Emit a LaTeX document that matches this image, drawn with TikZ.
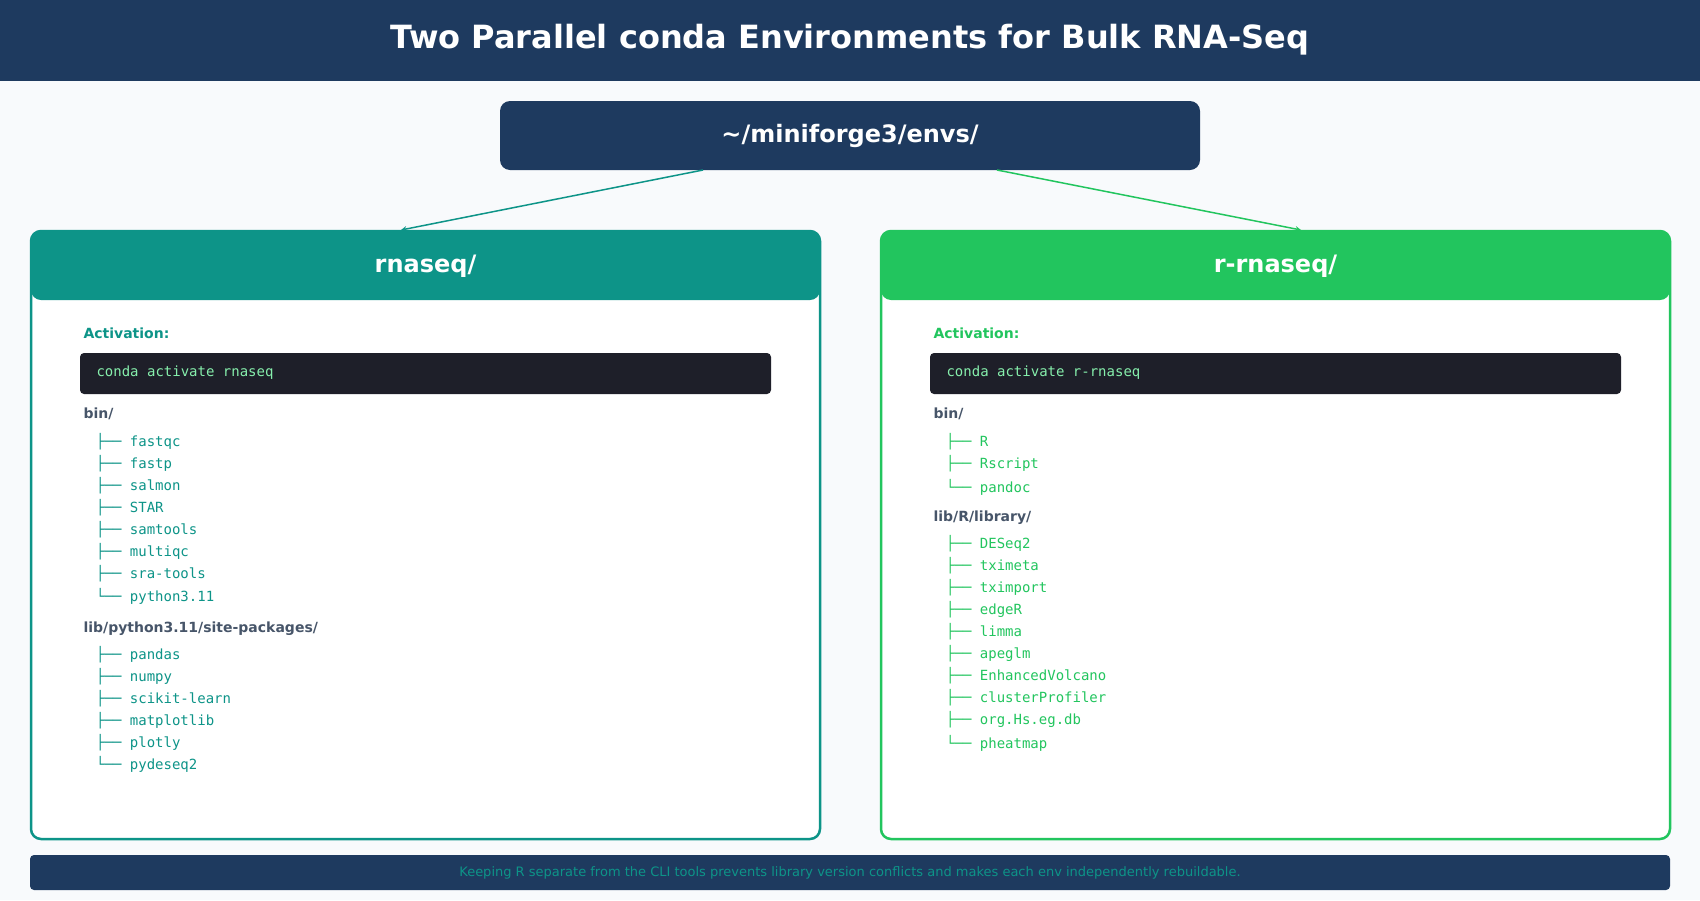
\documentclass[tikz,border=0pt]{standalone}
\usepackage{fontspec}
\setmainfont{DejaVu Sans}
\setmonofont{DejaVu Sans Mono}
\usetikzlibrary{positioning}
\definecolor{navy}{HTML}{1E3A5F}
\definecolor{teal}{HTML}{0D9488}
\definecolor{grn}{HTML}{22C55E}
\definecolor{bg}{HTML}{F8FAFC}
\definecolor{codebg}{HTML}{1E1F29}
\definecolor{codefg}{HTML}{86EFAC}
\definecolor{slate}{HTML}{475569}
\tikzset{
  head/.style={font=\bfseries\fontsize{24}{28}\selectfont,text=white},
  lbl/.style={anchor=west,font=\bfseries\fontsize{14}{16}\selectfont},
  item/.style={anchor=west,font=\ttfamily\fontsize{14}{16}\selectfont,inner sep=0pt},
  code/.style={anchor=west,font=\ttfamily\fontsize{14}{16}\selectfont,text=codefg},
}
\newcommand\envpanel[5]{% x, color, name, activate, #5 unused
  \fill[white,rounded corners=10pt] (#1,231) rectangle ++(789,608);
  \fill[#2,rounded corners=10pt] (#1,231) rectangle ++(789,69);
  \draw[#2,line width=2.5pt,rounded corners=10pt] (#1,231) rectangle ++(789,608);
  \node[head] at (#1+394.5,266) {#3};
  \node[lbl,text=#2] at (#1+49,333) {Activation:};
  \fill[codebg,rounded corners=4pt] (#1+49,353) rectangle ++(691,41);
  \node[code] at (#1+62,373) {#4};
}
\begin{document}
\begin{tikzpicture}[x=1pt,y=-1pt]
  \useasboundingbox (0,0) rectangle (1700,900);
  \fill[bg] (0,0) rectangle (1700,900);
  % title
  \fill[navy] (0,0) rectangle (1700,81);
  \node[font=\bfseries\fontsize{32}{36}\selectfont,text=white] (title) at (850,40) {Two Parallel conda Environments for Bulk RNA-Seq};
  % root
  \fill[navy,rounded corners=10pt] (500,101) rectangle (1200,170);
  \node[head] (envs) at (850,136) {\textasciitilde/miniforge3/envs/};
  \coordinate (envsL) at (703,170);
  \coordinate (envsR) at (997,170);
  \coordinate (left) at (401,230);
  \coordinate (right) at (1301,230);
  \draw[teal,line width=1.5pt,-stealth] (envsL) -- (left);
  \draw[grn,line width=1.5pt,-stealth] (envsR) -- (right);
  % panels
  \envpanel{31}{teal}{rnaseq/}{conda activate rnaseq}{}
  \envpanel{881}{grn}{r-rnaseq/}{conda activate r-rnaseq}{}
  % left contents
  \node[lbl,text=slate] at (80,414) {bin/};
  \foreach \t [count=\i] in {fastqc,fastp,salmon,STAR,samtools,multiqc,sra-tools}
    \node[item,text=teal] at (96,420+22*\i) {├── \t};
  \node[item,text=teal] at (96,596) {└── python3.11};
  \node[lbl,text=slate] at (80,629) {lib/python3.11/site-packages/};
  \foreach \t [count=\i] in {pandas,numpy,scikit-learn,matplotlib,plotly}
    \node[item,text=teal] at (96,633+22*\i) {├── \t};
  \node[item,text=teal] at (96,764) {└── pydeseq2};
  % right contents
  \node[lbl,text=slate] at (930,414) {bin/};
  \foreach \t [count=\i] in {R,Rscript}
    \node[item,text=grn] at (946,420+22*\i) {├── \t};
  \node[item,text=grn] at (946,487) {└── pandoc};
  \node[lbl,text=slate] at (930,518) {lib/R/library/};
  \foreach \t [count=\i] in {DESeq2,tximeta,tximport,edgeR,limma,apeglm,EnhancedVolcano,clusterProfiler,org.Hs.eg.db}
    \node[item,text=grn] at (946,522+22*\i) {├── \t};
  \node[item,text=grn] at (946,743) {└── pheatmap};
  % footer
  \fill[navy,rounded corners=4pt] (30,855) rectangle (1670,890);
  \node[font=\fontsize{13}{15}\selectfont,text=teal] (note) at (850,873) {Keeping R separate from the CLI tools prevents library version conflicts and makes each env independently rebuildable.};
\end{tikzpicture}
\end{document}
